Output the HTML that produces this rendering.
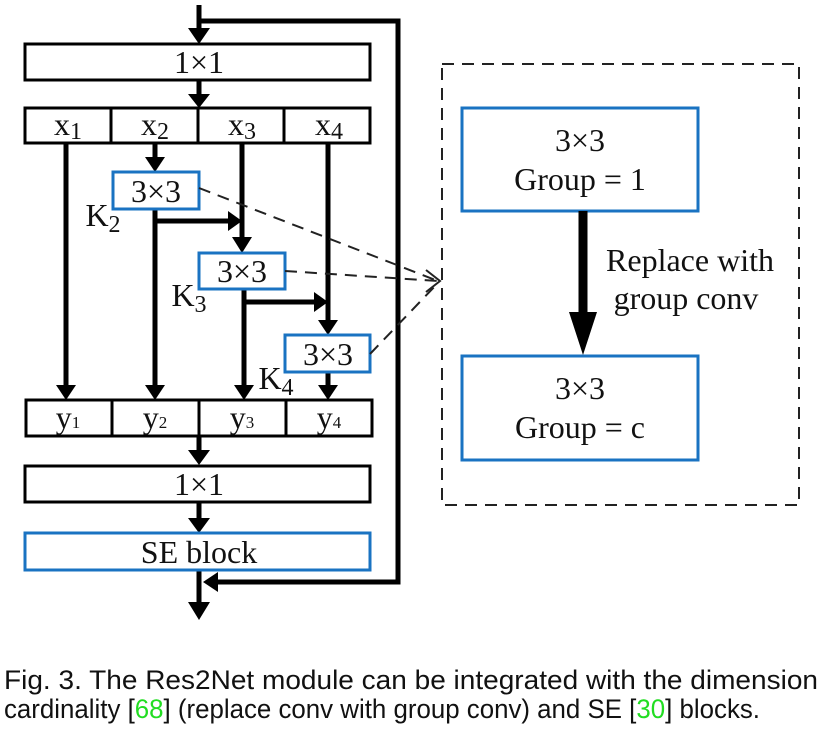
<!DOCTYPE html>
<html><head><meta charset="utf-8"><style>
html,body{margin:0;padding:0;background:#fff;}
svg{display:block;}
.t{font-family:"Liberation Serif",serif;fill:#111;}
.c{font-family:"Liberation Sans",sans-serif;fill:#111;}
</style></head><body>
<svg width="825" height="730" viewBox="0 0 825 730" xmlns="http://www.w3.org/2000/svg">
<g fill="none" stroke="#000" stroke-width="5">
<line x1="199" y1="5" x2="199" y2="30"/>
<polygon points="188,28 210,28 199,44" fill="#000" stroke="none"/>
<polyline points="199,21 398,21 398,582 215,582"/>
<polygon points="218,572 218,592 203,582" fill="#000" stroke="none"/>
<line x1="199" y1="80" x2="199" y2="96"/>
<polygon points="188,94 210,94 199,108" fill="#000" stroke="none"/>
<line x1="66" y1="143" x2="66" y2="388"/>
<polygon points="56,385 76,385 66,400" fill="#000" stroke="none"/>
<line x1="155" y1="143" x2="155" y2="160"/>
<polygon points="145,157 165,157 155,172" fill="#000" stroke="none"/>
<line x1="155" y1="209" x2="155" y2="388"/>
<polygon points="145,385 165,385 155,400" fill="#000" stroke="none"/>
<line x1="155" y1="221" x2="230" y2="221"/>
<polygon points="228,211 228,231 242,221" fill="#000" stroke="none"/>
<line x1="242" y1="143" x2="242" y2="240"/>
<polygon points="232,237 252,237 242,253" fill="#000" stroke="none"/>
<line x1="244" y1="289" x2="244" y2="388"/>
<polygon points="234,385 254,385 244,400" fill="#000" stroke="none"/>
<line x1="244" y1="302" x2="316" y2="302"/>
<polygon points="314,292 314,312 328,302" fill="#000" stroke="none"/>
<line x1="328" y1="143" x2="328" y2="322"/>
<polygon points="318,320 338,320 328,335" fill="#000" stroke="none"/>
<line x1="328" y1="372" x2="328" y2="388"/>
<polygon points="318,385 338,385 328,400" fill="#000" stroke="none"/>
<line x1="199" y1="436" x2="199" y2="452"/>
<polygon points="188,450 210,450 199,465" fill="#000" stroke="none"/>
<line x1="199" y1="502" x2="199" y2="520"/>
<polygon points="188,518 210,518 199,533" fill="#000" stroke="none"/>
<line x1="199" y1="570" x2="199" y2="605"/>
<polygon points="188,602 210,602 199,620" fill="#000" stroke="none"/>
</g>
<g stroke="#000" stroke-width="3" fill="#fff">
<rect x="25" y="44" width="345" height="36"/>
<rect x="25" y="108" width="345" height="35"/>
<line x1="111" y1="108" x2="111" y2="143"/>
<line x1="198" y1="108" x2="198" y2="143"/>
<line x1="284" y1="108" x2="284" y2="143"/>
<rect x="26" y="400" width="346" height="36"/>
<line x1="112" y1="400" x2="112" y2="436"/>
<line x1="199" y1="400" x2="199" y2="436"/>
<line x1="286" y1="400" x2="286" y2="436"/>
<rect x="25" y="466" width="345" height="36"/>
</g>
<g stroke="#1a73c2" stroke-width="3" fill="#fff">
<rect x="25" y="533" width="345" height="37"/>
<rect x="113" y="172" width="86" height="37"/>
<rect x="199" y="253" width="86" height="36"/>
<rect x="285" y="335" width="85" height="37"/>
<rect x="462" y="108" width="236" height="103"/>
<rect x="462" y="356" width="236" height="104"/>
</g>
<g stroke="#222" stroke-width="2" fill="none" stroke-dasharray="12,8">
<rect x="442" y="64" width="357" height="441"/>
<line x1="199" y1="188" x2="438" y2="281"/>
<line x1="285" y1="271" x2="438" y2="281"/>
<line x1="370" y1="354" x2="438" y2="283"/>
</g>
<path d="M426,270 L440,281 L426,292" fill="none" stroke="#222" stroke-width="2"/>
<line x1="583" y1="211" x2="583" y2="318" stroke="#000" stroke-width="9"/>
<polygon points="569,312 597,312 583,355" fill="#000"/>
<g class="t" font-size="32" text-anchor="middle">
<text x="199" y="73">1×1</text>
<text x="68" y="135">x<tspan font-size="24" dy="4">1</tspan></text>
<text x="155" y="135">x<tspan font-size="24" dy="4">2</tspan></text>
<text x="242" y="135">x<tspan font-size="24" dy="4">3</tspan></text>
<text x="329" y="135">x<tspan font-size="24" dy="4">4</tspan></text>
<text x="156" y="202">3×3</text>
<text x="242" y="282">3×3</text>
<text x="328" y="365">3×3</text>
<text x="103" y="226">K<tspan font-size="24" dy="6">2</tspan></text>
<text x="189" y="306">K<tspan font-size="24" dy="6">3</tspan></text>
<text x="276" y="389">K<tspan font-size="24" dy="6">4</tspan></text>
<text x="68" y="428">y<tspan font-size="17">1</tspan></text>
<text x="155" y="428">y<tspan font-size="17">2</tspan></text>
<text x="242" y="428">y<tspan font-size="17">3</tspan></text>
<text x="329" y="428">y<tspan font-size="17">4</tspan></text>
<text x="199" y="495">1×1</text>
<text x="199" y="563">SE block</text>
<text x="580" y="151">3×3</text>
<text x="580" y="190">Group = 1</text>
<text x="580" y="399">3×3</text>
<text x="580" y="438">Group = c</text>
<text x="690" y="271">Replace with</text>
<text x="686" y="309">group conv</text>
</g>
<text class="c" x="4" y="689" font-size="27" textLength="814" lengthAdjust="spacingAndGlyphs">Fig. 3. The Res2Net module can be integrated with the dimension</text>
<text class="c" x="4" y="718" font-size="27" textLength="756" lengthAdjust="spacingAndGlyphs">cardinality [<tspan fill="#22dd22">68</tspan>] (replace conv with group conv) and SE [<tspan fill="#22dd22">30</tspan>] blocks.</text>
</svg>
</body></html>
